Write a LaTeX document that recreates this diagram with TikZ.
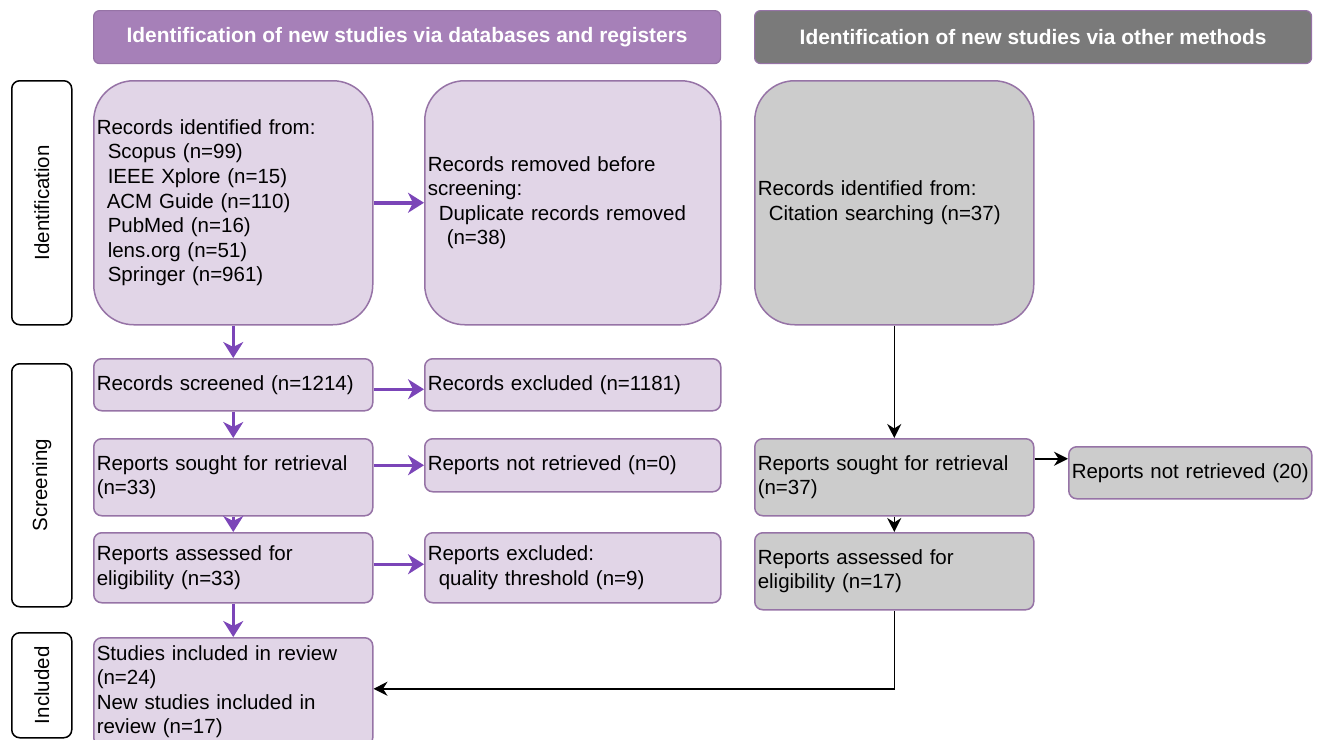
\documentclass[tikz,border=0pt]{standalone}
\usepackage{fontspec}
\setmainfont{Liberation Sans}
\usetikzlibrary{arrows.meta}
\definecolor{pfill}{HTML}{E1D5E7}
\definecolor{pline}{HTML}{9673A6}
\definecolor{hpurple}{HTML}{A680B8}
\definecolor{hgray}{HTML}{7A7A7A}
\definecolor{gfill}{HTML}{CCCCCC}
\definecolor{parr}{HTML}{7B45B8}
\tikzset{
  every node/.style={font=\fontsize{20.5}{24.6}\selectfont},
  boxbase/.style={draw=pline, line width=1.5pt, anchor=north west, align=left, inner xsep=3pt, inner ysep=0pt},
  pbig/.style={boxbase, fill=pfill, rounded corners=40pt},
  psmall/.style={boxbase, fill=pfill, rounded corners=8pt},
  gbig/.style={boxbase, fill=gfill, rounded corners=40pt},
  gsmall/.style={boxbase, fill=gfill, rounded corners=8pt},
  header/.style={draw=pline, line width=1.2pt, anchor=north west, rounded corners=6pt, text=white, align=center, font=\fontsize{20.9}{25}\selectfont\bfseries},
  sidebox/.style={draw=black, line width=1.5pt, fill=white, anchor=north west, rounded corners=8pt, minimum width=60pt},
  parrow/.style={draw=parr, line width=3.5pt, -{Stealth[length=16pt, width=20pt, inset=5pt]}},
  karrow/.style={draw=black, line width=1.5pt, -{Stealth[length=14pt, width=14pt, inset=4.5pt]}},
}
\begin{document}
\begin{tikzpicture}[x=1pt, y=-1pt]
\useasboundingbox (0,0) rectangle (1321,739);
% headers
\node[header, fill=hpurple, minimum width=627pt, minimum height=53pt] (h1) at (93,10) {Identification of new studies via databases and registers};
\node[header, fill=hgray, minimum width=557pt, minimum height=53pt] (h2) at (754,10) {Identification of new studies via other methods};
% side labels
\node[sidebox, minimum height=244pt] (s1) at (11,80) {};
\node[rotate=90] (s1t) at (s1.center) {Identification};
\node[sidebox, minimum height=243pt] (s2) at (11,363) {};
\node[rotate=90] (s2t) at (s2.center) {Screening};
\node[sidebox, minimum height=105pt] (s3) at (11,632) {};
\node[rotate=90] (s3t) at (s3.center) {Included};
% left column
\node[pbig, text width=273pt, minimum height=244pt] (b1) at (93,80) {Records identified from:\\
\hspace*{11pt}Scopus (n=99)\\
\hspace*{11pt}IEEE Xplore (n=15)\\
\hspace*{10pt}ACM Guide (n=110)\\
\hspace*{11pt}PubMed (n=16)\\
\hspace*{11pt}lens.org (n=51)\\
\hspace*{11pt}Springer (n=961)};
\node[pbig, text width=290pt, minimum height=244pt] (b2) at (424,80) {Records removed before\\
screening:\\
\hspace*{11pt}Duplicate records removed\\
\hspace*{19pt}(n=38)};
\node[psmall, text width=273pt, minimum height=52pt] (scr) at (93,358) {Records screened (n=1214)};
\node[psmall, text width=290pt, minimum height=52pt] (exc) at (424,358) {Records excluded (n=1181)};
\node[psmall, text width=273pt, minimum height=77pt] (sou) at (93,438) {Reports sought for retrieval\\(n=33)};
\node[psmall, text width=290pt, minimum height=53pt] (nr) at (424,438) {Reports not retrieved (n=0)};
\node[psmall, text width=273pt, minimum height=70pt] (ass) at (93,532) {Reports assessed for\\eligibility (n=33)};
\node[psmall, text width=290pt, minimum height=70pt] (exc2) at (424,532) {Reports excluded:\\\hspace*{11pt}quality threshold (n=9)};
\node[psmall, text width=273pt, minimum height=108pt] (inc) at (93,637) {Studies included in review\\(n=24)\\New studies included in\\review (n=17)};
% right column
\node[gbig, text width=273pt, minimum height=244pt] (g1) at (754,80) {Records identified from:\\\hspace*{11pt}Citation searching (n=37)};
\node[gsmall, text width=273pt, minimum height=77pt] (gsou) at (754,438) {Reports sought for retrieval\\(n=37)};
\node[gsmall, text width=237pt, minimum height=52pt] (gnr) at (1068,446) {Reports not retrieved (20)};
\node[gsmall, text width=273pt, minimum height=77pt] (gass) at (754,532) {Reports assessed for\\eligibility (n=17)};
% purple arrows
\draw[parrow] (b1.south) -- (scr.north);
\draw[parrow] (b1.east) -- (b2.west);
\draw[parrow] ([yshift=-4.5pt]scr.east) -- ([yshift=-4.5pt]exc.west);
\draw[parrow] (scr.south) -- (sou.north);
\draw[parrow] (sou.east |- nr.west) -- (nr.west);
\draw[parrow] (sou.south) -- (ass.north);
\draw[parrow] ([yshift=3.5pt]ass.east) -- ([yshift=3.5pt]exc2.west);
\draw[parrow] (ass.south) -- (inc.north);
% black arrows
\draw[karrow] (g1.south) -- (gsou.north);
\coordinate (gnrin) at ([yshift=14pt]gnr.west);
\draw[karrow] (gsou.east |- gnrin) -- (gnrin);
\draw[karrow] (gsou.south) -- (gass.north);
\coordinate (incin) at ([yshift=3pt]inc.east);
\draw[karrow] (gass.south) |- (incin);
\end{tikzpicture}
\end{document}
